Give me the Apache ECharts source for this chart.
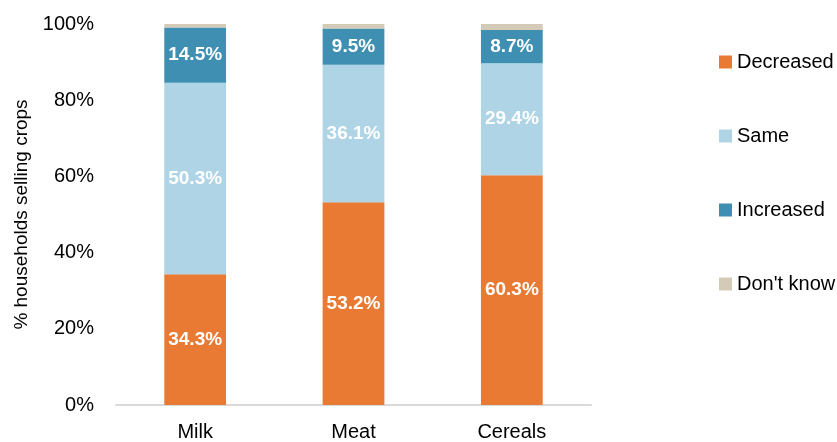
<!DOCTYPE html>
<html><head><meta charset="utf-8">
<script src="https://cdn.jsdelivr.net/npm/echarts@6/dist/echarts.min.js"></script>
<style>html,body{margin:0;padding:0;background:#fff}#c{width:837px;height:442px}</style>
</head><body><div id="c"></div>
<script>
const categories = ['Milk', 'Meat', 'Cereals'];
const decreased = [34.3, 53.2, 60.3];
const same = [50.3, 36.1, 29.4];
const increased = [14.5, 9.5, 8.7];
const dontKnow = [0.9, 1.2, 1.6];
const seriesNames = ['Decreased', 'Same', 'Increased', "Don't know"];
const colors = ['#E87A34', '#AED4E5', '#3E8FB1', '#D3CAB7'];
const font = '"Liberation Sans Narrow", "Liberation Sans", Arial, sans-serif';

const chart = echarts.init(document.getElementById('c'));
const dataSets = [decreased, same, increased, dontKnow];
const series = dataSets.map((d, i) => ({
  name: seriesNames[i],
  type: 'bar',
  stack: 'total',
  barWidth: '39%',
  data: d,
  itemStyle: { color: colors[i] },
  label: {
    show: i < 3,
    position: 'inside',
    color: '#fff',
    fontWeight: 'bold',
    fontSize: 19,
    fontFamily: font,
    formatter: p => p.value.toFixed(1) + '%'
  }
}));

chart.setOption({
  animation: false,
  grid: { left: 116, right: 246, top: 24, bottom: 37 },
  legend: {
    orient: 'vertical',
    left: 714,
    top: 47,
    itemWidth: 13,
    itemHeight: 13,
    itemGap: 54,
    icon: 'rect',
    data: seriesNames,
    textStyle: { fontSize: 20, lineHeight: 20, fontFamily: font, color: '#000' }
  },
  xAxis: {
    type: 'category',
    data: categories,
    axisLine: { lineStyle: { color: '#d9d9d9', width: 2 } },
    axisTick: { show: false },
    axisLabel: { fontSize: 20, fontFamily: font, color: '#000', margin: 17 }
  },
  yAxis: {
    type: 'value',
    min: 0, max: 100, interval: 20,
    name: '% households selling crops',
    nameLocation: 'middle',
    nameGap: 85,
    nameRotate: 90,
    nameTextStyle: { fontSize: 19, fontFamily: font, color: '#000' },
    axisLine: { show: false },
    axisTick: { show: false },
    splitLine: { show: false },
    axisLabel: { fontSize: 20, fontFamily: font, color: '#000', margin: 22, formatter: '{value}%' }
  },
  series: series
});
</script></body></html>
